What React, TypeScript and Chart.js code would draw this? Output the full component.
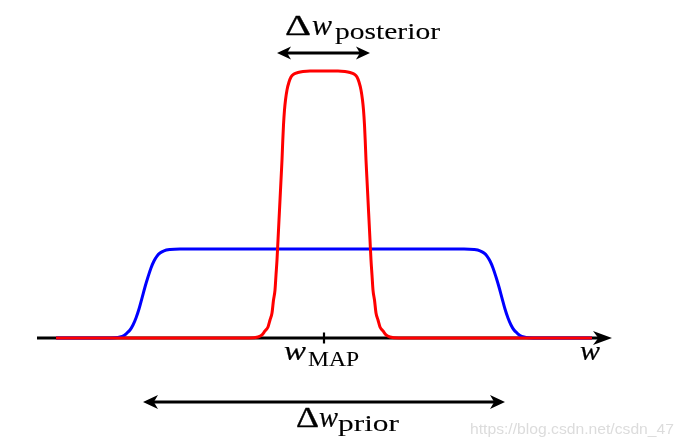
import { useEffect, useRef } from "react";
import { Chart, registerables } from "chart.js";

Chart.register(...registerables);

// Posterior (red) curve: w offsets from w_MAP and density values
const POSTERIOR_W = [
  -6.7, -1.875, -1.65, -1.55, -1.475, -1.4, -1.35, -1.3, -1.2625, -1.225, -1.2, -1.175, -1.15, -1.125, -1.1, -1.075,
  -1.05, -1.03, -1.0125, -0.9875, -0.9625, -0.925, -0.875, -0.825, -0.75, -0.65, -0.525, -0.35,
  0.35, 0.525, 0.65, 0.75, 0.825, 0.875, 0.925, 0.9625, 0.9875, 1.0125, 1.03, 1.05,
  1.075, 1.1, 1.125, 1.15, 1.175, 1.2, 1.225, 1.2625, 1.3, 1.35, 1.4, 1.475, 1.55, 1.65, 1.875, 6.7,
];
const POSTERIOR_P = [
  0, 0, 0.011, 0.034, 0.079, 0.124, 0.202, 0.281, 0.427, 0.539, 0.708, 0.876, 1.101, 1.326, 1.551, 1.775,
  2.0, 2.225, 2.393, 2.562, 2.674, 2.787, 2.876, 2.933, 2.966, 2.983, 2.994, 3.0,
  3.0, 2.994, 2.983, 2.966, 2.933, 2.876, 2.787, 2.674, 2.562, 2.393, 2.225, 2.0,
  1.775, 1.551, 1.326, 1.101, 0.876, 0.708, 0.539, 0.427, 0.281, 0.202, 0.124, 0.079, 0.034, 0.011, 0, 0,
];

// Prior (blue) curve
const PRIOR_W = [
  -6.7, -5.475, -5.225, -5.1, -5.0, -4.925, -4.85, -4.775, -4.7, -4.625, -4.55, -4.475, -4.4, -4.325, -4.25, -4.175,
  -4.1, -4.0, -3.85, -3.6,
  3.5, 3.75, 3.9, 4.0, 4.075, 4.15, 4.225, 4.3, 4.375, 4.45, 4.525, 4.6, 4.675, 4.75, 4.825, 4.9, 5.0, 5.125, 5.375, 6.7,
];
const PRIOR_P = [
  0, 0, 0.003, 0.011, 0.028, 0.056, 0.09, 0.146, 0.225, 0.326, 0.449, 0.573, 0.685, 0.787, 0.865, 0.921,
  0.955, 0.98, 0.994, 1.0,
  1.0, 0.994, 0.98, 0.955, 0.921, 0.865, 0.787, 0.685, 0.573, 0.449, 0.326, 0.225, 0.146, 0.09, 0.056, 0.028, 0.011, 0.003, 0, 0,
];

// Widths indicated by the double arrows
const POSTERIOR_WIDTH = [-1.175, 1.15];
const PRIOR_WIDTH = [-4.525, 4.525];
const W_MAP = 0;
const AXIS_RANGE = [-7.175, 7.2];

const LABEL_POSTERIOR = ["Δ", "w", "posterior"];
const LABEL_PRIOR = ["Δ", "w", "prior"];
const LABEL_MAP = ["w", "MAP"];
const LABEL_AXIS = "w";
const WATERMARK = "https://blog.csdn.net/csdn_47";

const SERIF = "'Liberation Serif', 'Times New Roman', serif";

function fitText(
  ctx: CanvasRenderingContext2D,
  text: string,
  x: number,
  y: number,
  width: number,
  font: string,
  stroke = 0
) {
  ctx.font = font;
  const m = ctx.measureText(text).width || 1;
  ctx.save();
  ctx.translate(x, y);
  ctx.scale(width / m, 1);
  ctx.textBaseline = "alphabetic";
  ctx.textAlign = "left";
  ctx.fillText(text, 0, 0);
  if (stroke > 0) {
    ctx.lineWidth = stroke;
    ctx.strokeStyle = ctx.fillStyle as string;
    ctx.strokeText(text, 0, 0);
  }
  ctx.restore();
}

function arrowHead(ctx: CanvasRenderingContext2D, tx: number, ty: number, dir: number, len: number, half: number) {
  ctx.beginPath();
  ctx.moveTo(tx, ty);
  ctx.lineTo(tx - dir * len, ty - half);
  ctx.lineTo(tx - dir * len * 0.72, ty);
  ctx.lineTo(tx - dir * len, ty + half);
  ctx.closePath();
  ctx.fill();
}

function doubleArrow(ctx: CanvasRenderingContext2D, x1: number, x2: number, y: number, len: number, half: number) {
  ctx.beginPath();
  ctx.moveTo(x1 + len * 0.6, y);
  ctx.lineTo(x2 - len * 0.6, y);
  ctx.stroke();
  arrowHead(ctx, x1, y, -1, len, half);
  arrowHead(ctx, x2, y, 1, len, half);
}

const annotations = {
  id: "annotations",
  beforeDatasetsDraw(chart: any) {
    const { ctx, scales } = chart;
    const xs = scales.x;
    const ys = scales.y;
    const y0 = ys.getPixelForValue(0);
    ctx.save();
    ctx.strokeStyle = "#000";
    ctx.lineWidth = 3;
    ctx.beginPath();
    ctx.moveTo(xs.getPixelForValue(AXIS_RANGE[0]), y0);
    ctx.lineTo(xs.getPixelForValue(AXIS_RANGE[1]) - 12, y0);
    ctx.stroke();
    ctx.restore();
  },
  afterDatasetsDraw(chart: any) {
    const { ctx, scales } = chart;
    const xs = scales.x;
    const ys = scales.y;
    const y0 = ys.getPixelForValue(0);
    ctx.save();
    ctx.fillStyle = "#000";
    ctx.strokeStyle = "#000";
    // axis arrow head
    arrowHead(ctx, xs.getPixelForValue(AXIS_RANGE[1]), y0, 1, 19, 7);
    // w_MAP tick
    const xm = xs.getPixelForValue(W_MAP);
    ctx.lineWidth = 2.2;
    ctx.beginPath();
    ctx.moveTo(xm, y0 - 5.5);
    ctx.lineTo(xm, y0 + 5.5);
    ctx.stroke();

    // posterior width arrow
    ctx.lineWidth = 3;
    doubleArrow(ctx, xs.getPixelForValue(POSTERIOR_WIDTH[0]), xs.getPixelForValue(POSTERIOR_WIDTH[1]), y0 - 285, 14, 6.5);
    // prior width arrow
    doubleArrow(ctx, xs.getPixelForValue(PRIOR_WIDTH[0]), xs.getPixelForValue(PRIOR_WIDTH[1]), y0 + 64, 15, 7);

    // labels
    fitText(ctx, LABEL_POSTERIOR[0], xm - 39, y0 - 303, 26, `29px ${SERIF}`, 0.3);
    fitText(ctx, LABEL_POSTERIOR[1], xm - 12, y0 - 303, 20, `italic 29px ${SERIF}`, 0.2);
    fitText(ctx, LABEL_POSTERIOR[2], xm + 11, y0 - 299, 105, `23px ${SERIF}`, 0.1);

    fitText(ctx, LABEL_PRIOR[0], xm - 28, y0 + 89, 23, `29px ${SERIF}`, 0.3);
    fitText(ctx, LABEL_PRIOR[1], xm - 5, y0 + 89, 19, `italic 29px ${SERIF}`, 0.2);
    fitText(ctx, LABEL_PRIOR[2], xm + 14, y0 + 93, 61, `23px ${SERIF}`, 0.1);

    fitText(ctx, LABEL_MAP[0], xm - 40, y0 + 22, 22, `italic 28px ${SERIF}`, 0.2);
    fitText(ctx, LABEL_MAP[1], xm - 16, y0 + 28, 51, `22px ${SERIF}`, 0.1);

    fitText(ctx, LABEL_AXIS, xs.getPixelForValue(AXIS_RANGE[1]) - 32, y0 + 22, 20, `italic 28px ${SERIF}`, 0.2);

    // watermark
    ctx.fillStyle = "#dcdcdc";
    fitText(ctx, WATERMARK, 470, 434, 204, `14px 'Liberation Sans', Arial, sans-serif`);
    ctx.restore();
  },
};

export default function App() {
  const ref = useRef<HTMLCanvasElement | null>(null);

  useEffect(() => {
    if (!ref.current) return;
    const posterior = POSTERIOR_W.map((w, i) => ({ x: w, y: POSTERIOR_P[i] }));
    const prior = PRIOR_W.map((w, i) => ({ x: w, y: PRIOR_P[i] }));
    const chart = new Chart(ref.current, {
      type: "line",
      data: {
        datasets: [
          {
            label: "posterior",
            data: posterior,
            borderColor: "#ff0000",
            borderWidth: 3,
            pointRadius: 0,
            fill: false,
            cubicInterpolationMode: "monotone",
          },
          {
            label: "prior",
            data: prior,
            borderColor: "#0000ff",
            borderWidth: 3,
            pointRadius: 0,
            fill: false,
            cubicInterpolationMode: "monotone",
          },
        ],
      },
      options: {
        responsive: false,
        maintainAspectRatio: false,
        animation: false,
        devicePixelRatio: 1,
        events: [],
        layout: { padding: 0 },
        plugins: { legend: { display: false }, tooltip: { enabled: false } },
        scales: {
          x: { type: "linear", min: -8.1, max: 9.0, display: false },
          y: { type: "linear", min: -108 / 89, max: 338 / 89, display: false },
        },
      },
      plugins: [annotations],
    } as any);
    return () => chart.destroy();
  }, []);

  return (
    <div style={{ position: "absolute", left: 0, top: 0, width: 684, height: 446, background: "#fff" }}>
      <canvas ref={ref} width={684} height={446} style={{ display: "block", width: 684, height: 446 }} />
    </div>
  );
}
